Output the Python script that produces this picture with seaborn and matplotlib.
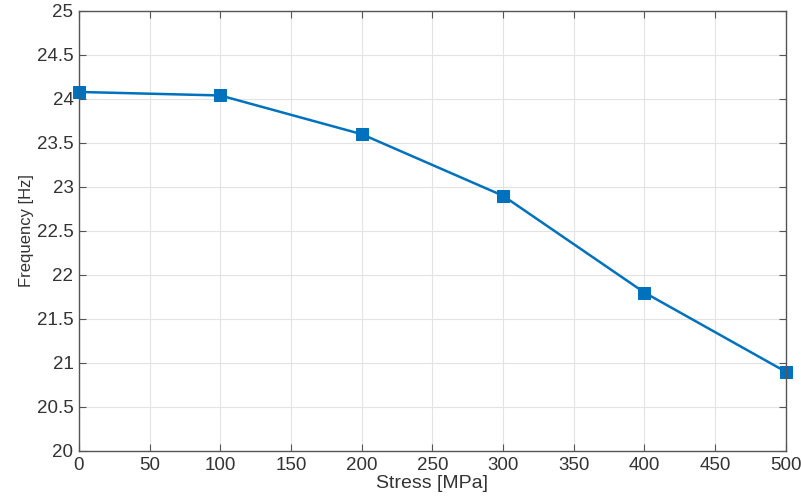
import pandas as pd
import matplotlib.pyplot as plt
import seaborn as sns

# Values
stress = [0, 100, 200, 300, 400, 500]
frequency = [24.08, 24.04, 23.60, 22.90, 21.80, 20.90]
x_ticks = [0, 50, 100, 150, 200, 250, 300, 350, 400, 450, 500]
y_ticks = [20, 20.5, 21, 21.5, 22, 22.5, 23, 23.5, 24, 24.5, 25]

df = pd.DataFrame({"stress": stress, "frequency": frequency})

sns.set_style("whitegrid")
plt.rcParams["font.family"] = ["Liberation Sans", "DejaVu Sans"]

fig = plt.figure(figsize=(8.01, 4.99), dpi=100)
ax = fig.add_axes([0.0986, 0.0962, 0.8825, 0.8818])

sns.lineplot(data=df, x="stress", y="frequency", color="#0072BD", linewidth=1.8,
             marker="s", markersize=8, markeredgecolor="#0072BD", ax=ax, clip_on=False)

ax.set_xlim(0, 500)
ax.set_ylim(20, 25)
ax.set_xticks(x_ticks)
ax.set_yticks(y_ticks)
ax.set_xticklabels([str(t) for t in x_ticks])
ax.set_yticklabels([f"{t:g}" for t in y_ticks])

ax.grid(True, color="#e3e3e3", linewidth=0.8)
for s in ax.spines.values():
    s.set_visible(True)
    s.set_color("#555555")
    s.set_linewidth(1.0)
ax.tick_params(direction="in", length=5, width=0.8, color="#555555",
               labelsize=13.5, labelcolor="#333333", top=True, right=True,
               bottom=True, left=True, pad=4)

ax.set_xlabel("Stress [MPa]", fontsize=14, color="#333333", labelpad=1)
ax.set_ylabel("Frequency [Hz]", fontsize=12, color="#333333", labelpad=2)

fig.savefig("out.png", dpi=100)
